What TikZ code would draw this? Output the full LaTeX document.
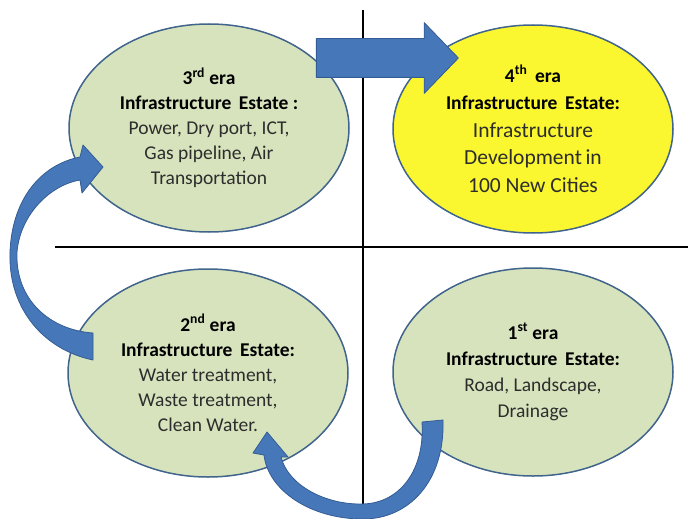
\documentclass[tikz,border=0pt]{standalone}
\usepackage{fontspec}
\setmainfont{Carlito}
\usetikzlibrary{shapes.geometric,shapes.arrows}
\definecolor{eragreen}{RGB}{215,227,189}
\definecolor{erayellow}{RGB}{250,246,48}
\definecolor{eraline}{RGB}{64,100,140}
\definecolor{flowblue}{RGB}{70,120,185}
\definecolor{flowdark}{RGB}{52,92,148}
\definecolor{bodytext}{RGB}{45,45,45}
\begin{document}
\begin{tikzpicture}[x=1pt,y=-1pt,line join=round,
	era/.style={ellipse,draw=eraline,line width=1.5pt,fill=eragreen,minimum width=280pt,minimum height=208pt,inner sep=0pt,align=center,text=bodytext,font=\fontsize{19.5}{25}\selectfont},
	flow/.style={fill=flowblue,draw=flowdark,line width=0.8pt}]
	\useasboundingbox (0,0) rectangle (688,519);
	% quadrant lines
	\draw[line width=2.6pt] (55,247)--(688,247);
	\draw[line width=2.6pt] (363,10)--(363,508);
	% eras
	\node[era] (third) at (209,128) {\textbf{\color{black}3\textsuperscript{rd} era}\\\textbf{\color{black}Infrastructure\, Estate :}\\Power, Dry port, ICT,\\Gas pipeline, Air\\Transportation};
	\node[era,fill=erayellow,font=\fontsize{19.5}{27.5}\selectfont] (fourth) at (533,129) {\textbf{\color{black}4\textsuperscript{th}\, era}\\\textbf{\color{black}Infrastructure\, Estate:}\\{\fontsize{21.5}{27.5}\selectfont Infrastructure}\\{\fontsize{21.5}{27.5}\selectfont Development\,in}\\{\fontsize{21.5}{27.5}\selectfont 100 New Cities}};
	\node[era] (second) at (208,373) {\textbf{\color{black}2\textsuperscript{nd} era}\\\textbf{\color{black}Infrastructure\, Estate:}\\Water treatment,\\Waste treatment,\\Clean Water.};
	\node[era,font=\fontsize{19.5}{26}\selectfont] (first) at (533,372) {\textbf{\color{black}1\textsuperscript{st} era}\\\textbf{\color{black}Infrastructure\, Estate:}\\Road, Landscape,\\Drainage};
	% 3rd -> 4th
	\node[single arrow,flow,minimum height=142pt,minimum width=70pt,single arrow head extend=16pt,single arrow tip angle=92,inner xsep=0pt,inner ysep=19pt] (push) at (378,58) {};
	% 2nd -> 3rd
	\draw[flow] (93,333)--(93,360) .. controls (45,350) and (8,310) .. (10,252)
		.. controls (12,200) and (40,165) .. (80,157) -- (83,145) -- (103,167) -- (82,193) -- (80,180)
		.. controls (50,185) and (20,215) .. (17,252)
		.. controls (15,300) and (50,330) .. (93,333) -- cycle;
	% 1st -> 2nd
	\draw[flow] (422,422)--(443,420) .. controls (445,480) and (410,519) .. (363,519)
		.. controls (310,519) and (268,490) .. (264,455) -- (253,453) -- (267,432) -- (288,457) -- (281,457)
		.. controls (288,485) and (325,505) .. (363,504)
		.. controls (400,503) and (425,470) .. (422,422) -- cycle;
\end{tikzpicture}
\end{document}
